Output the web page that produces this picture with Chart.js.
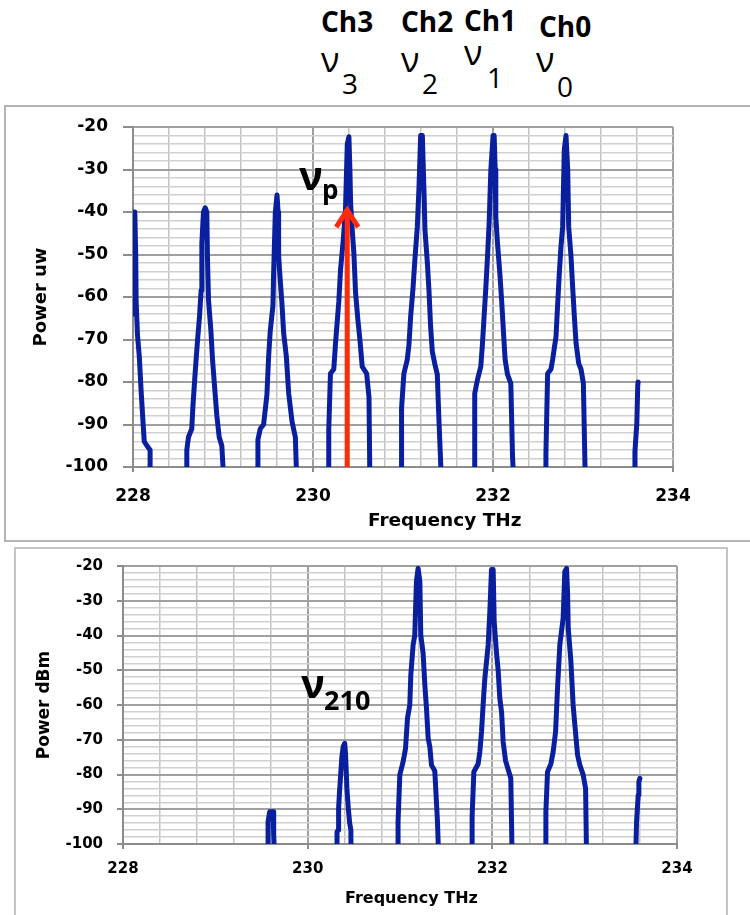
<!DOCTYPE html>
<html>
<head>
<meta charset="utf-8">
<title>Spectrum</title>
<script src="https://cdn.jsdelivr.net/npm/chart.js@4.4.1/dist/chart.umd.min.js"></script>
<style>
    body { margin: 0; width: 750px; height: 915px; overflow: hidden; position: relative; background: #fff; }
    .frame { position: absolute; box-sizing: border-box; border: 2px solid #b4b4b4; }
    #topFrame { left: 4px; top: 105px; width: 800px; height: 437px; }
    #bottomFrame { left: 14px; top: 547px; width: 714px; height: 420px; border-color: #c4c4c4; }
    canvas { position: absolute; }
    #topCanvas { left: 5px; top: 106px; }
    #bottomCanvas { left: 15px; top: 547px; }
    .lbl { position: absolute; line-height: 1; white-space: nowrap; color: #000; font-family: 'Open Sans', sans-serif; }
    .ch { font-size: 28px; font-weight: bold; }
    .nu { font-size: 34px; }
    .sub { font-size: 28px; }
    .big { font-size: 40px; font-weight: bold; }
    .xtitle { font-family: 'DejaVu Sans', Verdana, sans-serif; font-weight: bold; }
</style>
</head>
<body>
<div class="frame" id="topFrame"></div>
<div class="frame" id="bottomFrame"></div>
<canvas id="topCanvas" width="745" height="435"></canvas>
<canvas id="bottomCanvas" width="712" height="368"></canvas>

<!-- 通道標示 -->
<div class="lbl ch" style="left:321px; top:7px;">Ch3</div>
<div class="lbl ch" style="left:401px; top:7px;">Ch2</div>
<div class="lbl ch" style="left:464px; top:6px;">Ch1</div>
<div class="lbl ch" style="left:539px; top:12px;">Ch0</div>
<div class="lbl nu" style="left:321px; top:42px;">ν</div>
<div class="lbl sub" style="left:342px; top:69px;">3</div>
<div class="lbl nu" style="left:401px; top:42px;">ν</div>
<div class="lbl sub" style="left:422px; top:69px;">2</div>
<div class="lbl nu" style="left:464px; top:35px;">ν</div>
<div class="lbl sub" style="left:487px; top:63px;">1</div>
<div class="lbl nu" style="left:536px; top:42px;">ν</div>
<div class="lbl sub" style="left:557px; top:72px;">0</div>

<!-- 圖內標註 -->
<div class="lbl big" style="left:299px; top:155px;">ν</div>
<div class="lbl" style="left:322px; top:176px; font-size:26px; font-weight:bold;">p</div>
<div class="lbl big" style="left:301px; top:663px;">ν</div>
<div class="lbl" style="left:324px; top:686px; font-size:27px; font-weight:bold;">210</div>

<!-- X 軸標題 -->
<div class="lbl xtitle" style="left:368px; top:511px; font-size:18.5px;">Frequency THz</div>
<div class="lbl xtitle" style="left:345px; top:890px; font-size:16px;">Frequency THz</div>

<script>
// 上圖光譜 (THz / dB)
const topFreq = [
    228.01, 228.01, 228.02, 228.03, 228.035, 228.05, 228.07, 228.09, 228.11, 228.125, 228.155, 228.19, 228.19,
    228.598, 228.598, 228.616, 228.653, 228.665, 228.69, 228.716, 228.739, 228.757, 228.765, 228.783, 228.802, 228.82, 228.828, 228.839, 228.865, 228.884, 228.906, 228.932, 228.958, 228.987, 229.013,
    229.388, 229.388, 229.414, 229.451, 229.488, 229.507, 229.525, 229.555, 229.562, 229.581, 229.6, 229.612, 229.618, 229.629, 229.655, 229.674, 229.704, 229.73, 229.767, 229.804, 229.822,
    230.175, 230.175, 230.194, 230.231, 230.25, 230.287, 230.306, 230.336, 230.36, 230.381, 230.399, 230.41, 230.418, 230.436, 230.455, 230.473, 230.499, 230.521, 230.547, 230.596, 230.622, 230.633,
    230.984, 230.984, 231.01, 231.047, 231.066, 231.085, 231.111, 231.133, 231.159, 231.178, 231.196, 231.215, 231.233, 231.244, 231.27, 231.289, 231.307, 231.326, 231.356, 231.381, 231.4, 231.43,
    231.797, 231.797, 231.827, 231.864, 231.882, 231.901, 231.92, 231.939, 231.957, 231.976, 232.001, 232.013, 232.024, 232.031, 232.05, 232.076, 232.098, 232.117, 232.135, 232.161, 232.198, 232.217, 232.235,
    232.588, 232.588, 232.607, 232.644, 232.662, 232.7, 232.718, 232.737, 232.755, 232.774, 232.792, 232.811, 232.83, 232.841, 232.867, 232.885, 232.904, 232.923, 232.952, 232.978, 233.004, 233.027,
    233.572, 233.577, 233.598, 233.608, 233.612
];
const topPower = [
    -64, -40, -40, -50, -61, -69, -74, -82, -89, -94, -95, -96, -105,
    -105, -96, -93, -91, -86, -78, -70.5, -64.6, -58.4, -47.4, -40, -39, -40, -51.3, -60.7, -67.8, -74.8, -81, -88, -93, -95, -105,
    -105, -93.6, -91, -90, -83, -74, -68, -62, -55, -40.3, -36, -40, -50, -54, -61.5, -68.5, -74, -82.7, -89.3, -93, -105,
    -105, -91.3, -78, -77, -71, -61, -53.6, -46.6, -40, -24, -22.3, -30, -38, -44.2, -50, -59, -65.4, -70, -76.4, -78, -83.5, -105,
    -105, -86.2, -78, -74.8, -71.3, -64.6, -58, -50.9, -43.5, -34, -22, -22, -35, -44.2, -51.7, -58.7, -67, -72.9, -76, -78.2, -89.3, -105,
    -105, -82.7, -79.5, -76.4, -71.3, -64.6, -58, -50.5, -42.7, -30.1, -22, -22, -30, -41.1, -47.4, -54.4, -61.5, -68.5, -74.8, -78.2, -80.3, -97.6, -105,
    -105, -97, -78, -77, -74.8, -69.3, -61.9, -54.4, -48.2, -43.5, -25.4, -22, -30, -43.5, -50.5, -57.6, -64.6, -70.9, -75.6, -77, -80.3, -105,
    -105, -96.4, -89.7, -81, -80
];

// 下圖光譜 (THz / dBm)
const bottomFreq = [
    229.571, 229.571, 229.589, 229.625, 229.632, 229.643,
    230.318, 230.318, 230.33, 230.335, 230.345, 230.37, 230.385, 230.401, 230.41, 230.425, 230.44, 230.455, 230.468, 230.47,
    230.979, 230.979, 230.998, 231.034, 231.06, 231.081, 231.106, 231.117, 231.142, 231.16, 231.178, 231.196, 231.215, 231.225, 231.25, 231.269, 231.287, 231.305, 231.323, 231.341, 231.377, 231.406, 231.42,
    231.781, 231.781, 231.8, 231.846, 231.865, 231.883, 231.9, 231.919, 231.955, 231.973, 231.991, 232.009, 232.02, 232.045, 232.063, 232.081, 232.1, 232.117, 232.143, 232.165, 232.2, 232.215,
    232.58, 232.58, 232.598, 232.634, 232.659, 232.685, 232.706, 232.731, 232.767, 232.785, 232.804, 232.815, 232.822, 232.851, 232.875, 232.894, 232.923, 232.948, 232.984, 233.01, 233.021,
    233.551, 233.562, 233.58, 233.587, 233.598
];
const bottomPower = [
    -105, -93.6, -90.7, -90.7, -97.4, -105,
    -105, -96.5, -96, -89.7, -85, -75, -72, -71, -74, -84, -89.7, -94, -96, -105,
    -105, -93.6, -80.1, -76.3, -72.5, -63.8, -60, -51.4, -42.7, -40, -24.5, -20.7, -24.5, -39.9, -45, -54.2, -61, -69.6, -72, -77.3, -79, -93.6, -105,
    -105, -92.1, -79.2, -77, -73.4, -67.7, -60, -52.3, -42.7, -33.1, -21, -21, -36, -45, -50, -58.1, -62, -70.5, -76, -78, -81.1, -105,
    -105, -90.7, -79.2, -77, -73.4, -67.7, -55.2, -42.7, -35, -21.6, -20.7, -28, -37.9, -47.5, -60, -65.8, -74.4, -77.3, -80.1, -84, -105,
    -105, -93.6, -85.9, -82.1, -81.1
];

// 刻度標籤
const freqTicks = [228, 230, 232, 234];
const powerTicks = [-20, -30, -40, -50, -60, -70, -80, -90, -100];

// 泵浦箭頭 (頻率, 起點功率, 終點功率)
const pumpFreq = 230.38;
const pumpFrom = -100;
const pumpTo = -38.6;

const SpectrumCharts = {
    topChart: null,
    bottomChart: null,

    /**
     * 初始化
     */
    init: function() {
        Chart.defaults.font.family = "'DejaVu Sans', Verdana, sans-serif";
        Chart.defaults.font.weight = 'bold';
        Chart.defaults.color = '#000';

        this.topChart = this.createChart('topCanvas', topFreq, topPower, {
            yTitle: 'Power uw',
            tickSize: 17,
            titleSize: 18,
            titlePad: 26,
            yWidth: 128,
            xHeight: 74,
            padding: { top: 21, right: 77, bottom: 0, left: 0 },
            yTickLength: 10,
            yTickPad: 15,
            xTickPad: 14
        }, [this.arrowPlugin]);

        this.bottomChart = this.createChart('bottomCanvas', bottomFreq, bottomPower, {
            yTitle: 'Power dBm',
            tickSize: 15,
            titleSize: 17,
            titlePad: 19,
            yWidth: 108,
            xHeight: 71,
            padding: { top: 19, right: 50, bottom: 0, left: 0 },
            yTickLength: 6,
            yTickPad: 14,
            xTickPad: 11
        }, []);
    },

    /**
     * 判斷是否為主刻度
     */
    isMajor: function(value, list) {
        return list.some(t => Math.abs(t - value) < 1e-6);
    },

    /**
     * 泵浦箭頭
     */
    arrowPlugin: {
        id: 'pumpArrow',
        afterDatasetsDraw: function(chart) {
            const ctx = chart.ctx;
            const px = chart.scales.x.getPixelForValue(pumpFreq);
            const yFrom = chart.scales.y.getPixelForValue(pumpFrom);
            const yTo = chart.scales.y.getPixelForValue(pumpTo);

            ctx.save();
            ctx.strokeStyle = '#ff2a0c';
            ctx.lineWidth = 5;
            ctx.beginPath();
            ctx.moveTo(px, yFrom);
            ctx.lineTo(px, yTo + 3);
            ctx.stroke();

            ctx.lineJoin = 'miter';
            ctx.beginPath();
            ctx.moveTo(px - 11, yTo + 21);
            ctx.lineTo(px, yTo + 4);
            ctx.lineTo(px + 11, yTo + 21);
            ctx.stroke();
            ctx.restore();
        }
    },

    /**
     * 建立圖表
     */
    createChart: function(canvasId, freq, power, s, plugins) {
        const self = this;
        const ctx = document.getElementById(canvasId).getContext('2d');
        const points = freq.map((f, i) => ({ x: f, y: power[i] }));

        return new Chart(ctx, {
            type: 'line',
            data: {
                datasets: [{
                    data: points,
                    borderColor: '#0a1f9e',
                    borderWidth: 5,
                    borderJoinStyle: 'round',
                    borderCapStyle: 'round',
                    pointRadius: 0,
                    tension: 0,
                    fill: false
                }]
            },
            plugins: plugins,
            options: {
                responsive: false,
                animation: false,
                devicePixelRatio: 1,
                layout: { padding: s.padding },
                plugins: {
                    legend: { display: false },
                    tooltip: { enabled: false }
                },
                scales: {
                    x: {
                        type: 'linear',
                        min: 228,
                        max: 234,
                        afterFit: function(scale) { scale.height = s.xHeight; },
                        border: { color: '#8c8c8c', width: 2 },
                        grid: {
                            color: c => (c.tick && self.isMajor(c.tick.value, freqTicks)) ? '#a0a0a0' : '#c4c4c4',
                            lineWidth: c => (c.tick && self.isMajor(c.tick.value, freqTicks)) ? 2 : 1.5,
                            tickLength: 5,
                            tickColor: c => (c.tick && self.isMajor(c.tick.value, freqTicks)) ? '#8c8c8c' : 'rgba(0,0,0,0)'
                        },
                        ticks: {
                            stepSize: 0.4,
                            autoSkip: false,
                            maxRotation: 0,
                            padding: s.xTickPad,
                            font: { size: s.tickSize, weight: 'bold' },
                            callback: function(value) {
                                return self.isMajor(value, freqTicks) ? String(Math.round(value)) : '';
                            }
                        }
                    },
                    y: {
                        min: -100,
                        max: -20,
                        afterFit: function(scale) {
                            scale.width = s.yWidth;
                            // 繪圖區上緣由 layout padding 決定
                            scale.paddingTop = 0;
                        },
                        border: { color: '#8c8c8c', width: 2 },
                        grid: {
                            color: c => (c.tick && self.isMajor(c.tick.value, powerTicks)) ? '#a0a0a0' : '#d0d0d0',
                            lineWidth: c => (c.tick && self.isMajor(c.tick.value, powerTicks)) ? 2 : 1.5,
                            tickLength: s.yTickLength,
                            tickColor: c => (c.tick && self.isMajor(c.tick.value, powerTicks)) ? '#8c8c8c' : 'rgba(0,0,0,0)'
                        },
                        ticks: {
                            stepSize: 2,
                            autoSkip: false,
                            padding: s.yTickPad,
                            font: { size: s.tickSize, weight: 'bold' },
                            callback: function(value) {
                                return self.isMajor(value, powerTicks) ? String(Math.round(value)) : '';
                            }
                        },
                        title: {
                            display: true,
                            text: s.yTitle,
                            font: { size: s.titleSize, weight: 'bold' },
                            padding: { top: s.titlePad, bottom: 0 }
                        }
                    }
                }
            }
        });
    }
};

SpectrumCharts.init();
</script>
</body>
</html>
